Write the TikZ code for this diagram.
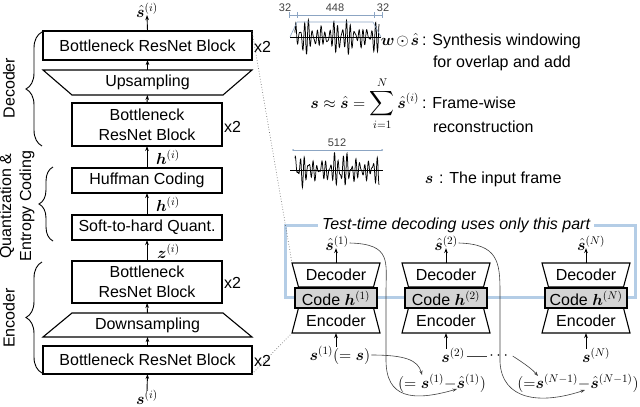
\documentclass[tikz,border=0pt]{standalone}
\usepackage{fix-cm}
\usepackage{amsmath}
\usepackage{bm}
\usepackage[no-math]{fontspec}
\setmainfont{Liberation Sans}
\usetikzlibrary{arrows.meta,decorations.pathreplacing,calc}
\definecolor{frameblue}{RGB}{180,205,230}
\definecolor{dimblue}{RGB}{140,165,195}
\definecolor{codegray}{RGB}{212,212,212}
\begin{document}
\begin{tikzpicture}[x=1pt,y=-1pt,
  txt/.style={font=\fontsize{16}{20}\selectfont, inner sep=0pt, outer sep=0pt},
  blk/.style={txt, draw, line width=1.1pt, align=center},
  arr/.style={-{Stealth[length=5pt,width=3.6pt]}, line width=0.9pt},
  thinarr/.style={-{Stealth[length=4.5pt,width=3.2pt]}, line width=0.6pt, black!75},
  brc/.style={decorate, line width=0.9pt},
  trap/.style={line width=1.1pt},
  small/.style={font=\fontsize{11}{13}\selectfont, inner sep=0pt, text=black!75},
  dimline/.style={dimblue, line width=0.5pt},
  wave/.style={line width=0.75pt},
  conn/.style={dotted, black!55, line width=0.7pt},
]
\useasboundingbox (0,0) rectangle (640,407);

% ---------- left column ----------
\node[blk, minimum width=209pt, minimum height=29pt] (b1) at (147.5,45.5) {Bottleneck ResNet Block};
\node[txt, minimum width=209pt, minimum height=25pt] (up) at (147.5,82.5) {Upsampling};
\draw[trap] (up.north west) -- (up.north east) -- ([xshift=-29pt]up.south east) -- ([xshift=29pt]up.south west) -- cycle;
\node[blk, minimum width=150pt, minimum height=43pt] (b2) at (147,124.5) {Bottleneck\\ResNet Block};
\node[blk, minimum width=150pt, minimum height=25pt] (huff) at (147,180.5) {Huffman Coding};
\node[blk, minimum width=150pt, minimum height=25pt] (quant) at (147,227.5) {Soft-to-hard Quant.};
\node[blk, minimum width=150pt, minimum height=42pt] (b3) at (147,282) {Bottleneck\\ResNet Block};
\node[txt, minimum width=209pt, minimum height=24pt] (down) at (147.5,325) {Downsampling};
\draw[trap] ([xshift=29pt]down.north west) -- ([xshift=-29pt]down.north east) -- (down.south east) -- (down.south west) -- cycle;
\node[blk, minimum width=209pt, minimum height=28pt] (b4) at (147.5,360) {Bottleneck ResNet Block};

\node[txt] (shati) at (147,10) {$\hat{\bm s}^{(i)}$};
\node[txt] (si) at (147,397) {$\bm s^{(i)}$};

\draw[arr] ([yshift=-1pt]si.north) -- (b4.south);
\draw[arr] (b4.north) -- (down.south);
\draw[arr] (down.north) -- (b3.south);
\draw[arr] (b3.north) -- (quant.south);
\draw[arr] (quant.north) -- (huff.south);
\draw[arr] (huff.north) -- (b2.south);
\draw[arr] (b2.north) -- (up.south);
\draw[arr] (up.north) -- (b1.south);
\draw[arr] (b1.north) -- ([yshift=2pt]shati.south);

\node[txt, anchor=west] (lz) at (157,251) {$\bm z^{(i)}$};
\node[txt, anchor=west] (lh1) at (156,204) {$\bm h^{(i)}$};
\node[txt, anchor=west] (lh2) at (156,157) {$\bm h^{(i)}$};

\node[txt, anchor=west] (x2a) at (254,47) {x2};
\node[txt, anchor=west] (x2b) at (224,127) {x2};
\node[txt, anchor=west] (x2c) at (224,283) {x2};
\node[txt, anchor=west] (x2d) at (254,361) {x2};

% braces
\draw[brc, decoration={brace, amplitude=16pt}] (42,146) -- (42,32);
\draw[brc, decoration={brace, amplitude=14pt}] (53,241) -- (53,167);
\draw[brc, decoration={brace, amplitude=16pt}] (42,373) -- (42,262);
\node[txt, rotate=90] (ldec) at (9,88) {Decoder};
\node[txt, rotate=90, align=center] (lqe) at (17,206) {Quantization \&\\Entropy Coding};
\node[txt, rotate=90] (lenc) at (9,318) {Encoder};

% ---------- right top: waveforms ----------
\draw[wave] plot[domain=0:84, samples=340, variable=\t] ({295+\t}, {37 - ((11*sin(86*\t) + 7*sin(112*\t+50))*(0.75+0.25*sin(9*\t+20)) + 2*sin(31*\t))});
\draw[wave] (290,37) -- (381,37);
\draw[dimblue, line width=0.6pt] (290,37) -- (297,22) -- (373,22) -- (381,37);
\draw[dimline] (289,15) -- (382,15);
\foreach \xx in {289,297,374,382} { \draw[dimline] (\xx,12) -- (\xx,18); }
\node[small] (d32a) at (285,8) {32};
\node[small] (d448) at (335,8) {448};
\node[small] (d32b) at (383,8) {32};

\draw[wave] plot[domain=0:84, samples=340, variable=\t] ({295+\t}, {170 - ((10.5*sin(84*\t+20) + 7*sin(118*\t+100))*(0.75+0.25*sin(8*\t+80)) + 2*sin(29*\t+40))});
\draw[wave] (290,170) -- (383,170);
\draw[dimline] (293,150) -- (382,150);
\fill[dimblue] (293,150) circle (1pt) (382,150) circle (1pt);
\node[small] (d512) at (337,143) {512};

\node[txt, anchor=base east] (wlab) at (419,45) {$\bm w\mskip2mu\mathord{\odot}\mskip2mu\hat{\bm s}$};
\node[txt, anchor=base west] (wd1) at (422,45) {: Synthesis windowing};
\node[txt, anchor=base west] (wd2) at (433,67) {for overlap and add};
\node[txt, anchor=base east] (eq) at (419,108) {$\displaystyle \bm s\approx\hat{\bm s}=\sum_{i=1}^{N}\hat{\bm s}^{(i)}$};
\node[txt, anchor=base west] (fw1) at (422,108) {: Frame-wise};
\node[txt, anchor=base west] (fw2) at (433,132) {reconstruction};
\node[txt, anchor=base] (slab) at (429,183) {$\bm s$};
\node[txt, anchor=base west] (inp) at (439,183) {: The input frame};

% ---------- test-time frame ----------
\draw[frameblue, line width=3pt] (285,225) rectangle (635,297);
\node[txt, fill=white, inner xsep=4pt, inner ysep=2pt, font=\fontsize{16}{20}\selectfont\itshape] (tt) at (456,225) {Test-time decoding uses only this part};

% ---------- units ----------
\foreach \c/\k in {336/1,446/2,586/N} {
  \node[txt, minimum width=88pt, minimum height=24pt] (dec\k) at (\c,275) {Decoder};
  \draw[trap] (dec\k.north west) -- (dec\k.north east) -- ([xshift=-6.5pt]dec\k.south east) -- ([xshift=6.5pt]dec\k.south west) -- cycle;
  \node[txt, minimum width=88pt, minimum height=25pt] (enc\k) at (\c,320.5) {Encoder};
  \draw[trap] ([xshift=6.5pt]enc\k.north west) -- ([xshift=-6.5pt]enc\k.north east) -- (enc\k.south east) -- (enc\k.south west) -- cycle;
  \node[blk, fill=codegray, minimum width=82pt, minimum height=20pt] (code\k) at (\c,298) {Code $\bm h^{(\k)}$};
}

\node[txt] (sh1) at (337,243) {$\hat{\bm s}^{(1)}$};
\node[txt] (sh2) at (446,243) {$\hat{\bm s}^{(2)}$};
\node[txt] (shN) at (591,243) {$\hat{\bm s}^{(N)}$};
\draw[arr] (dec1.north) -- ([yshift=2pt]dec1.north |- sh1.south);
\draw[arr] (dec2.north) -- ([yshift=2pt]dec2.north |- sh2.south);
\draw[arr] (decN.north) -- ([yshift=2pt]decN.north |- shN.south);

\node[txt] (sl1) at (340,355) {$\bm s^{(1)}(=\bm s)$};
\node[txt] (sl2) at (453,355) {$\bm s^{(2)}$};
\node[txt] (slN) at (596,355) {$\bm s^{(N)}$};
\draw[arr] ([yshift=-1pt]enc1.south |- sl1.north) -- (enc1.south);
\draw[arr] ([yshift=-1pt]enc2.south |- sl2.north) -- (enc2.south);
\draw[arr] ([yshift=-1pt]encN.south |- slN.north) -- (encN.south);

\node[txt] (dots) at (500,356) {$\cdots$};
\draw[line width=0.6pt, black!75] ([xshift=2pt]sl2.east |- dots) -- ([xshift=-2pt]dots.west);

\node[txt] (f1) at (442,383) {$(=\bm s^{(1)}\mathord{-}\hat{\bm s}^{(1)})$};
\node[txt] (f2) at (578,383) {$(\mathord{=}\bm s^{(N-1)}\mathord{-}\hat{\bm s}^{(N-1)})$};

\coordinate (t1) at (422,375);
\coordinate (t2) at (457,389);
\coordinate (t3) at (538,376);
\coordinate (t4) at (585,390);

\draw[thinarr] ([xshift=1pt]sl1.east) .. controls (405,355) and (418,360) .. (t1);
\draw[thinarr] ([xshift=1pt]sh1.east) .. controls (392,244) and (386,262) .. (386,292) -- (386,360) .. controls (386,398) and (412,402) .. (t2);
\draw[thinarr] ([xshift=1pt]sh2.east) .. controls (498,244) and (500,262) .. (500,292) -- (500,362) .. controls (502,400) and (540,405) .. (t4);
\draw[thinarr] ([xshift=2pt]dots.east) .. controls (525,364) and (532,369) .. (t3);

% dotted zoom connectors
\draw[conn] (b1.north east) -- (dec1.north west);
\draw[conn] (b4.south east) -- (enc1.south west);
\end{tikzpicture}
\end{document}
